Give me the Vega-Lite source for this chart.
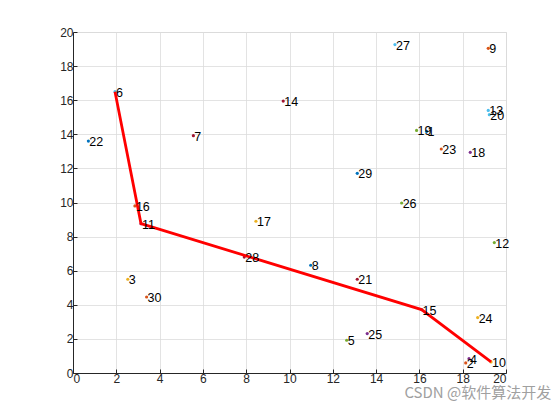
{
  "$schema": "https://vega.github.io/schema/vega-lite/v6.json",
  "autosize": "none",
  "width": 433,
  "height": 341,
  "padding": {"left": 73, "top": 32, "right": 54, "bottom": 47},
  "background": "white",
  "config": {
    "view": {"stroke": "#d9d9d9", "strokeWidth": 1},
    "font": "Liberation Sans",
    "axis": {
      "domainColor": "#262626",
      "domainWidth": 1,
      "tickColor": "#262626",
      "tickSize": -4,
      "labelColor": "#262626",
      "labelFont": "Liberation Sans",
      "labelFontSize": 12,
      "gridColor": "#dcdcdc",
      "gridWidth": 0.8,
      "titleFontSize": 0
    }
  },
  "datasets": {
    "pts": [
      {"id": 1, "x": 16.33, "y": 14.17},
      {"id": 2, "x": 18.14, "y": 0.59},
      {"id": 3, "x": 2.53, "y": 5.5},
      {"id": 4, "x": 18.29, "y": 0.84},
      {"id": 5, "x": 12.64, "y": 1.92},
      {"id": 6, "x": 1.94, "y": 16.5},
      {"id": 7, "x": 5.56, "y": 13.92},
      {"id": 8, "x": 10.98, "y": 6.32},
      {"id": 9, "x": 19.18, "y": 19.04},
      {"id": 10, "x": 19.31, "y": 0.65},
      {"id": 11, "x": 3.14, "y": 8.76},
      {"id": 12, "x": 19.46, "y": 7.65},
      {"id": 13, "x": 19.18, "y": 15.4},
      {"id": 14, "x": 9.71, "y": 15.95},
      {"id": 15, "x": 16.1, "y": 3.72},
      {"id": 16, "x": 2.86, "y": 9.8},
      {"id": 17, "x": 8.45, "y": 8.9},
      {"id": 18, "x": 18.35, "y": 12.94},
      {"id": 19, "x": 15.87, "y": 14.23},
      {"id": 20, "x": 19.23, "y": 15.15},
      {"id": 21, "x": 13.13, "y": 5.5},
      {"id": 22, "x": 0.71, "y": 13.6},
      {"id": 23, "x": 17.01, "y": 13.14},
      {"id": 24, "x": 18.69, "y": 3.25},
      {"id": 25, "x": 13.59, "y": 2.31},
      {"id": 26, "x": 15.18, "y": 9.97},
      {"id": 27, "x": 14.87, "y": 19.26},
      {"id": 28, "x": 7.91, "y": 6.8},
      {"id": 29, "x": 13.13, "y": 11.71},
      {"id": 30, "x": 3.4, "y": 4.46}
    ],
    "path": [
      {"step": 1, "x": 1.94, "y": 16.5},
      {"step": 2, "x": 3.14, "y": 8.76},
      {"step": 3, "x": 16.1, "y": 3.72},
      {"step": 4, "x": 19.31, "y": 0.65}
    ]
  },
  "title": {
    "text": "CSDN @软件算法开发",
    "orient": "bottom",
    "anchor": "end",
    "offset": 2,
    "fontSize": 15,
    "fontWeight": "normal",
    "font": "Noto Sans CJK SC",
    "color": "#a0a0a0",
    "dx": 42
  },
  "encoding": {
    "x": {"field": "x", "type": "quantitative", "scale": {"domain": [0, 20], "nice": false},
          "axis": {"values": [0,2,4,6,8,10,12,14,16,18,20], "title": null, "labelPadding": 4}},
    "y": {"field": "y", "type": "quantitative", "scale": {"domain": [0, 20], "nice": false},
          "axis": {"values": [0,2,4,6,8,10,12,14,16,18,20], "title": null, "labelPadding": 4}}
  },
  "layer": [
    {
      "data": {"name": "pts"},
      "mark": {"type": "circle", "size": 10, "opacity": 1},
      "encoding": {
        "color": {"field": "id", "type": "nominal", "legend": null,
          "scale": {"domain": [1,2,3,4,5,6,7,8,9,10,11,12,13,14,15,16,17,18,19,20,21,22,23,24,25,26,27,28,29,30],
                    "range": ["#0072BD", "#D95319", "#EDB120", "#7E2F8E", "#77AC30", "#4DBEEE", "#A2142F"]}}
      }
    },
    {
      "data": {"name": "path"},
      "mark": {"type": "line", "color": "#ff0000", "strokeWidth": 2.8},
      "encoding": {"order": {"field": "step", "type": "quantitative"}}
    },
    {
      "data": {"name": "pts"},
      "mark": {"type": "text", "align": "left", "baseline": "middle", "dx": 1, "dy": 1, "fontSize": 12.5, "font": "Liberation Sans", "color": "#000000"},
      "encoding": {"text": {"field": "id", "type": "nominal"}}
    }
  ]
}
